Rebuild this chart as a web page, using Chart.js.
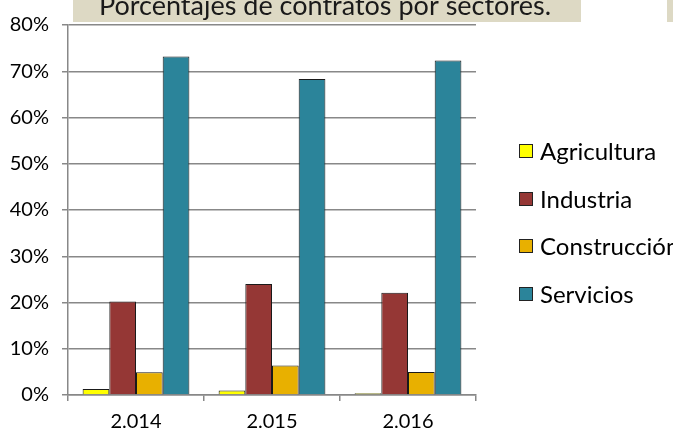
<!DOCTYPE html>
<html>
<head>
<meta charset="utf-8">
<script src="https://cdn.jsdelivr.net/npm/chart.js@4.4.1/dist/chart.umd.min.js"></script>
<style>
html,body{margin:0;padding:0;background:#fff;}
canvas{display:block;}
</style>
</head>
<body>
<canvas id="c" width="673" height="430"></canvas>
<script>
const titleText = 'Porcentajes de contratos por sectores.';
const categories = ['2.014', '2.015', '2.016'];
const seriesNames = ['Agricultura', 'Industria', 'Construcción', 'Servicios'];
const agricultura = [1.3, 1.0, 0.4];
const industria = [20.2, 24.0, 22.1];
const construccion = [4.9, 6.4, 5.0];
const servicios = [73.2, 68.3, 72.3];
const yTicks = [0, 10, 20, 30, 40, 50, 60, 70, 80];

const colors = ['#FFFF00', '#953735', '#E8B000', '#2B849A'];
const FONT = 'Lato, "Open Sans", sans-serif';
const GRID = '#888888';

const titlePlugin = {
  id: 'titleBox',
  beforeDraw(chart) {
    const ctx = chart.ctx;
    ctx.save();
    ctx.fillStyle = '#DDD9C4';
    ctx.fillRect(73, 0, 508, 22);
    ctx.fillRect(667, 0, 6, 22);
    ctx.fillStyle = '#1a1a1a';
    ctx.font = '27px ' + FONT;
    ctx.textAlign = 'center';
    ctx.textBaseline = 'alphabetic';
    ctx.fillText(titleText, 325, 15);
    ctx.restore();
  }
};

const legendPlugin = {
  id: 'sideLegend',
  afterDraw(chart) {
    const ctx = chart.ctx;
    ctx.save();
    const ys = [151, 199, 246, 294];
    chart.data.datasets.forEach((ds, i) => {
      const y = ys[i];
      ctx.fillStyle = ds.backgroundColor;
      ctx.fillRect(519, y - 7, 14, 14);
      ctx.strokeStyle = '#222';
      ctx.lineWidth = 1;
      ctx.strokeRect(519.5, y - 6.5, 13, 13);
      ctx.fillStyle = '#000';
      ctx.font = '24px ' + FONT;
      ctx.textAlign = 'left';
      ctx.textBaseline = 'middle';
      ctx.fillText(ds.label, 540, y + 1);
    });
    ctx.restore();
  }
};

const seriesData = [agricultura, industria, construccion, servicios];

new Chart(document.getElementById('c'), {
  type: 'bar',
  data: {
    labels: categories,
    datasets: seriesNames.map((n, i) => ({
      label: n,
      data: seriesData[i],
      backgroundColor: colors[i],
      borderColor: '#1a1a1a',
      borderWidth: 1,
      categoryPercentage: 0.785,
      barPercentage: 1.0
    }))
  },
  options: {
    responsive: false,
    animation: false,
    devicePixelRatio: 1,
    layout: { padding: { top: 23, right: 197, left: 0, bottom: 0 } },
    plugins: { legend: { display: false }, tooltip: { enabled: false }, title: { display: false } },
    scales: {
      y: {
        min: 0, max: 80,
        afterBuildTicks: (s) => { s.ticks = yTicks.map(v => ({ value: v })); },
        afterFit: (s) => { s.width = 68; },
        ticks: { color: '#000', font: { family: FONT, size: 20 }, padding: 13, callback: (v) => v + '%' },
        grid: { color: GRID, lineWidth: 1.5, tickLength: 6 },
        border: { color: GRID, width: 1.5 }
      },
      x: {
        afterFit: (s) => { s.height = 35; },
        ticks: { color: '#000', font: { family: FONT, size: 20 }, padding: 9 },
        grid: { offset: true, drawOnChartArea: false, color: GRID, lineWidth: 1.5, tickLength: 6 },
        border: { color: GRID, width: 1.5 }
      }
    }
  },
  plugins: [titlePlugin, legendPlugin]
});
</script>
</body>
</html>
